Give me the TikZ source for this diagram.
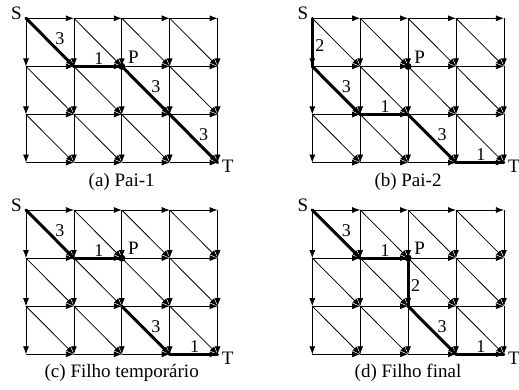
\documentclass[tikz,border=0pt]{standalone}
\usepackage{fontspec}
\setmainfont{Liberation Serif}
\usetikzlibrary{arrows.meta,calc}
\begin{document}
\begin{tikzpicture}[x=1pt,y=-1pt,
  edge/.style={draw=black, line width=0.8pt, -{Latex[length=8pt,width=6pt]}},
  bold/.style={draw=black, line width=3pt, line join=round, line cap=round},
  num/.style={font=\fontsize{18}{18}\selectfont, inner sep=0pt},
  dlab/.style={num, shift={(10,-3.5)}},
  hlab/.style={num, shift={(1,-8)}},
  vlab/.style={num, shift={(7.5,3.5)}},
  txt/.style={font=\fontsize{19}{19}\selectfont, inner sep=0pt},
  captext/.style={font=\fontsize{19}{19}\selectfont, inner sep=0pt},
  dot/.style={circle, fill=black, inner sep=0pt, minimum size=7pt}]
\useasboundingbox (0,0) rectangle (519,390);

% grid points
\foreach \g/\ox/\oy in {a/26/18.3, b/312.3/18.3, c/26/210, d/312.3/210}{
  \foreach \i in {0,...,4}{
    \foreach \j in {0,...,3}{
      \coordinate (\g-\i-\j) at (\ox+\i*47.9, \oy+\j*48.1);
    }
  }
}

% bold paths
\draw[bold] (a-0-0) -- node[dlab] (a-l1) {3} (a-1-1);
\draw[bold] (a-1-1) -- node[hlab] (a-l2) {1} (a-2-1);
\draw[bold] (a-2-1) -- node[dlab] (a-l3) {3} (a-3-2);
\draw[bold] (a-3-2) -- node[dlab] (a-l4) {3} (a-4-3);

\draw[bold] (b-0-0) -- node[vlab] (b-l1) {2} (b-0-1);
\draw[bold] (b-0-1) -- node[dlab] (b-l2) {3} (b-1-2);
\draw[bold] (b-1-2) -- node[hlab] (b-l3) {1} (b-2-2);
\draw[bold] (b-2-2) -- node[dlab] (b-l4) {3} (b-3-3);
\draw[bold] (b-3-3) -- node[hlab] (b-l5) {1} (b-4-3);

\draw[bold] (c-0-0) -- node[dlab] (c-l1) {3} (c-1-1);
\draw[bold] (c-1-1) -- node[hlab] (c-l2) {1} (c-2-1);
\draw[bold] (c-2-2) -- node[dlab] (c-l3) {3} (c-3-3);
\draw[bold] (c-3-3) -- node[hlab] (c-l4) {1} (c-4-3);

\draw[bold] (d-0-0) -- node[dlab] (d-l1) {3} (d-1-1);
\draw[bold] (d-1-1) -- node[hlab] (d-l2) {1} (d-2-1);
\draw[bold] (d-2-1) -- node[vlab] (d-l3) {2} (d-2-2);
\draw[bold] (d-2-2) -- node[dlab] (d-l4) {3} (d-3-3);
\draw[bold] (d-3-3) -- node[hlab] (d-l5) {1} (d-4-3);

% thin arrows
\foreach \g in {a,b,c,d}{
  \foreach \i [evaluate=\i as \ii using int(\i+1)] in {0,...,3}{
    \foreach \j in {0,...,3}{
      \draw[edge] (\g-\i-\j) -- (\g-\ii-\j);
    }
    \foreach \j [evaluate=\j as \jj using int(\j+1)] in {0,...,2}{
      \draw[edge] (\g-\i-\j) -- (\g-\ii-\jj);
    }
  }
  \foreach \i in {0,...,4}{
    \foreach \j [evaluate=\j as \jj using int(\j+1)] in {0,...,2}{
      \draw[edge] (\g-\i-\j) -- (\g-\i-\jj);
    }
  }
  \node[dot] (\g-P) at (\g-2-1) {};
  \node[txt] (\g-S) at ($(\g-0-0)+(-9.5,-4.5)$) {S};
  \node[txt] (\g-T) at ($(\g-4-3)+(10,4)$) {T};
  \node[txt] (\g-Pl) at ($(\g-2-1)+(11.5,-9.5)$) {P};
}

% captions
\node[captext] (a-cap) at (121.7,182) {(a) Pai-1};
\node[captext] (b-cap) at (408,182) {(b) Pai-2};
\node[captext] (c-cap) at (121.7,373) {(c) Filho temporário};
\node[captext] (d-cap) at (408,373) {(d) Filho final};
\end{tikzpicture}
\end{document}
